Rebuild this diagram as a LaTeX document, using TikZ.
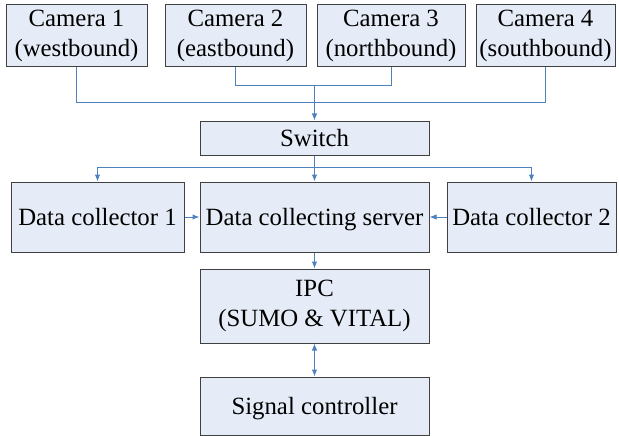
\documentclass[tikz,border=0pt]{standalone}
\usepackage{fontspec}
\setmainfont{Liberation Serif}
\newfontfamily\tnr{Liberation Serif}
\usetikzlibrary{arrows.meta}
\definecolor{boxfill}{RGB}{230,236,247}
\definecolor{boxline}{RGB}{64,64,64}
\definecolor{linkblue}{RGB}{79,129,189}
\begin{document}
\begin{tikzpicture}[x=1pt,y=-1pt,
  box/.style={draw=boxline, fill=boxfill, line width=1pt, align=center, inner sep=0pt,
    font=\tnr\fontsize{24.8}{29.5}\selectfont},
  one/.style={text height=17pt, text depth=0pt},
  link/.style={draw=linkblue, line width=1pt},
  arr/.style={link, -{Latex[length=7pt,width=5.5pt]}},
  darr/.style={link, {Latex[length=7pt,width=5.5pt]}-{Latex[length=7pt,width=5.5pt]}}]
\useasboundingbox (0,0) rectangle (619,436);
\node[box, minimum width=141pt, minimum height=62pt] (c1) at (76.5,36) {Camera 1\\(westbound)};
\node[box, minimum width=141pt, minimum height=62pt] (c2) at (235.5,36) {Camera 2\\(eastbound)};
\node[box, minimum width=148pt, minimum height=62pt] (c3) at (391,36) {Camera 3\\(northbound)};
\node[box, minimum width=139pt, minimum height=62pt] (c4) at (545.5,36) {Camera 4\\(southbound)};
\node[box, one, minimum width=229pt, minimum height=34pt] (sw) at (314.5,138) {Switch};
\node[box, one, minimum width=173pt, minimum height=70pt] (dc1) at (97.5,217) {Data collector 1};
\node[box, one, minimum width=229pt, minimum height=70pt] (srv) at (314.5,217) {Data collecting server};
\node[box, one, minimum width=169pt, minimum height=70pt] (dc2) at (531.5,217) {Data collector 2};
\node[box, minimum width=229pt, minimum height=74pt] (ipc) at (314.5,306) {IPC\\(SUMO \& VITAL)};
\node[box, one, minimum width=229pt, minimum height=58pt] (sc) at (314.5,406) {Signal controller};
\coordinate (j1) at (314.5,103);
\coordinate (j2) at (314.5,86);
\coordinate (j3) at (314.5,167);
\draw[link] (c1.south) |- (j1);
\draw[link] (c4.south) |- (j1);
\draw[link] (c2.south) |- (j2);
\draw[link] (c3.south) |- (j2);
\draw[arr] (j2) -- (sw.north);
\draw[link] (sw.south) -- (j3);
\draw[arr] (j3) -| (dc1.north);
\draw[arr] (j3) -| (dc2.north);
\draw[arr] (j3) -- (srv.north);
\draw[arr] (dc1.east) -- (srv.west);
\draw[arr] (dc2.west) -- (srv.east);
\draw[arr] (srv.south) -- (ipc.north);
\draw[darr] (ipc.south) -- (sc.north);
\end{tikzpicture}
\end{document}
